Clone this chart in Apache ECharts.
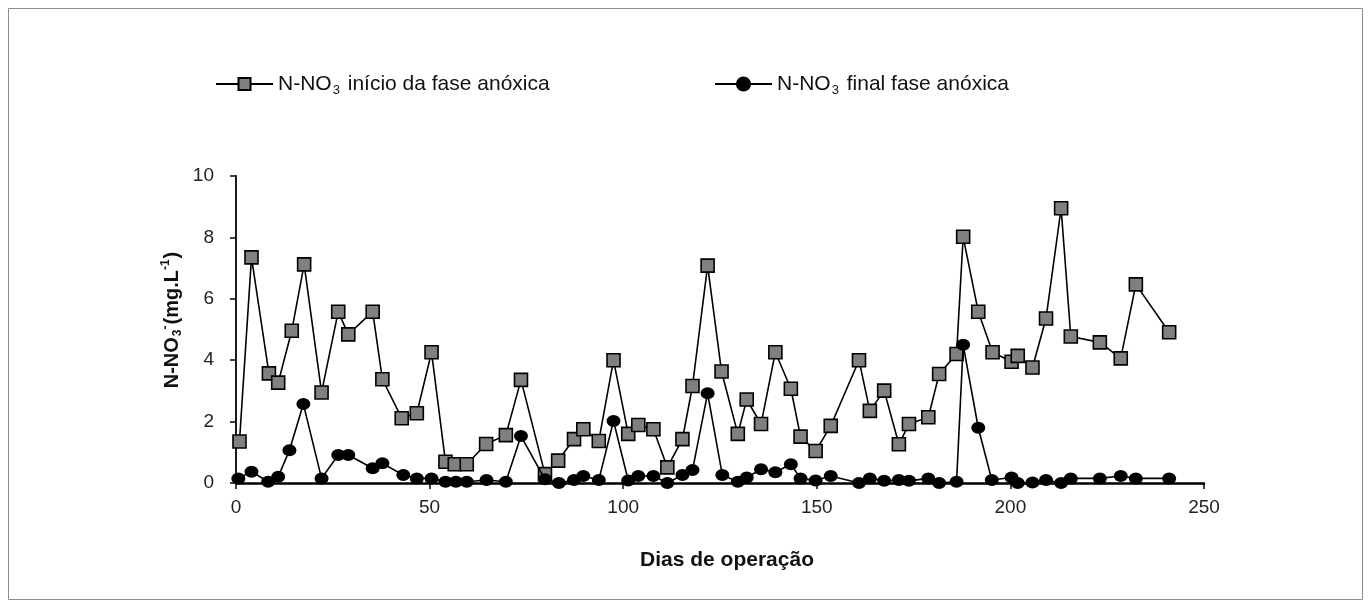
<!DOCTYPE html>
<html>
<head>
<meta charset="utf-8">
<title>N-NO3 na fase anóxica</title>
<script src="https://cdn.jsdelivr.net/npm/echarts@6/dist/echarts.min.js"></script>
<style>
  html, body { margin: 0; padding: 0; background: #ffffff; }
  #chart { width: 1371px; height: 608px; }
</style>
</head>
<body>
<div id="chart"></div>
<script>
// Dias de operação e N-NO3 (mg/L) no início da fase anóxica
const diasInicio = [0.9, 4.0, 8.5, 10.9, 14.4, 17.6, 22.1, 26.4, 29.0, 35.3, 37.8, 42.8, 46.7, 50.5, 54.1, 56.5, 59.6, 64.6, 69.7, 73.6, 79.8, 83.2, 87.3, 89.7, 93.7, 97.5, 101.3, 103.9, 107.8, 111.4, 115.3, 117.9, 121.8, 125.4, 129.6, 131.9, 135.6, 139.3, 143.3, 145.8, 149.7, 153.6, 160.9, 163.7, 167.4, 171.2, 173.8, 178.8, 181.6, 186.1, 187.8, 191.7, 195.4, 200.3, 201.9, 205.7, 209.2, 213.1, 215.6, 223.1, 228.5, 232.4, 241.0];
const inicio = [1.35, 7.35, 3.57, 3.27, 4.96, 7.12, 2.95, 5.58, 4.84, 5.58, 3.38, 2.11, 2.27, 4.26, 0.69, 0.61, 0.61, 1.27, 1.56, 3.36, 0.29, 0.73, 1.43, 1.75, 1.37, 4.0, 1.6, 1.89, 1.75, 0.51, 1.43, 3.16, 7.08, 3.63, 1.6, 2.72, 1.92, 4.26, 3.07, 1.51, 1.04, 1.86, 4.0, 2.35, 3.01, 1.26, 1.92, 2.14, 3.55, 4.2, 8.02, 5.58, 4.26, 3.95, 4.14, 3.76, 5.36, 8.95, 4.77, 4.58, 4.06, 6.47, 4.91];

// Dias de operação e N-NO3 (mg/L) no final da fase anóxica
const diasFinal = [0.6, 4.0, 8.3, 10.9, 13.8, 17.4, 22.1, 26.4, 29.0, 35.3, 37.8, 43.2, 46.7, 50.5, 54.1, 56.8, 59.6, 64.7, 69.7, 73.6, 79.8, 83.4, 87.3, 89.7, 93.7, 97.5, 101.3, 103.9, 107.8, 111.4, 115.3, 117.9, 121.8, 125.6, 129.6, 131.9, 135.6, 139.3, 143.3, 145.8, 149.7, 153.6, 160.9, 163.7, 167.4, 171.2, 173.8, 178.8, 181.6, 186.1, 187.8, 191.7, 195.2, 200.3, 201.9, 205.7, 209.2, 213.1, 215.6, 223.1, 228.5, 232.4, 241.0];
const finalFase = [0.15, 0.37, 0.04, 0.2, 1.07, 2.57, 0.15, 0.91, 0.91, 0.48, 0.64, 0.26, 0.15, 0.15, 0.04, 0.04, 0.04, 0.1, 0.04, 1.53, 0.12, 0.0, 0.1, 0.23, 0.1, 2.02, 0.08, 0.23, 0.23, 0.0, 0.26, 0.42, 2.92, 0.26, 0.04, 0.18, 0.45, 0.35, 0.61, 0.15, 0.08, 0.23, 0.0, 0.15, 0.07, 0.1, 0.07, 0.15, 0.0, 0.04, 4.5, 1.8, 0.1, 0.18, 0.0, 0.02, 0.1, 0.0, 0.15, 0.15, 0.23, 0.15, 0.15];

const xTicks = { min: 0, max: 250, step: 50 };
const yTicks = { min: 0, max: 10, step: 2 };

const serieInicio = 'N-NO3 início da fase anóxica';
const serieFinal = 'N-NO3 final fase anóxica';

const FONT = '"Liberation Sans", Arial, Helvetica, sans-serif';

const pares = (xs, ys) => xs.map((x, i) => [x, ys[i]]);

const legendRich = {
  a: { fontSize: 21, fontFamily: FONT, color: '#111', lineHeight: 26 },
  s: { fontSize: 13, fontFamily: FONT, color: '#111', lineHeight: 26, verticalAlign: 'bottom', padding: [11, 2, 0, 1] }
};

const chart = echarts.init(document.getElementById('chart'), null, { renderer: 'canvas' });

chart.setOption({
  animation: false,
  backgroundColor: '#ffffff',
  grid: { left: 236, right: 167, top: 176, bottom: 125, containLabel: false },
  legend: [
    {
      data: [serieInicio],
      left: 210, top: 68,
      itemWidth: 57, itemHeight: 15,
      formatter: () => '{a|N-NO}{s|3}{a| início da fase anóxica}',
      textStyle: { rich: legendRich }
    },
    {
      data: [serieFinal],
      left: 709, top: 68,
      itemWidth: 57, itemHeight: 19,
      formatter: () => '{a|N-NO}{s|3}{a| final fase anóxica}',
      textStyle: { rich: legendRich }
    }
  ],
  xAxis: {
    type: 'value',
    min: xTicks.min, max: xTicks.max, interval: xTicks.step,
    axisLine: { show: true, onZero: false, lineStyle: { color: '#000', width: 2.5 } },
    axisTick: { show: true, inside: false, length: 6, lineStyle: { color: '#000', width: 1.5 } },
    axisLabel: { fontSize: 19, fontFamily: FONT, color: '#222', margin: 15 },
    splitLine: { show: false }
  },
  yAxis: {
    type: 'value',
    min: yTicks.min, max: yTicks.max, interval: yTicks.step,
    axisLine: { show: true, lineStyle: { color: '#000', width: 1.8 } },
    axisTick: { show: true, inside: false, length: 6, lineStyle: { color: '#000', width: 1.5 } },
    axisLabel: { fontSize: 19, fontFamily: FONT, color: '#222', margin: 22 },
    splitLine: { show: false }
  },
  series: [
    {
      name: serieInicio,
      type: 'line',
      data: pares(diasInicio, inicio),
      symbol: 'rect',
      symbolSize: 13,
      lineStyle: { color: '#000', width: 1.6 },
      itemStyle: { color: '#808080', borderColor: '#000', borderWidth: 1.6 },
      z: 2
    },
    {
      name: serieFinal,
      type: 'line',
      data: pares(diasFinal, finalFase),
      symbol: 'circle',
      symbolSize: [14, 12],
      lineStyle: { color: '#000', width: 1.6 },
      itemStyle: { color: '#000', borderColor: '#000', borderWidth: 0 },
      z: 3
    }
  ],
  graphic: [
    {
      type: 'rect',
      shape: { x: 8.5, y: 8.5, width: 1354, height: 591 },
      style: { fill: 'none', stroke: '#8c8c8c', lineWidth: 1 },
      silent: true
    },
    {
      type: 'text',
      x: 727, y: 560,
      style: {
        text: 'Dias de operação',
        font: 'bold 21px ' + FONT,
        fill: '#111',
        align: 'center',
        verticalAlign: 'middle'
      }
    },
    {
      type: 'text',
      x: 172, y: 320,
      rotation: Math.PI / 2,
      style: {
        text: '{b|N-NO}{s|3}{u|-}{b|(mg.L}{u|-1}{b|)}',
        align: 'center',
        verticalAlign: 'middle',
        fill: '#111',
        rich: {
          b: { font: 'bold 20px ' + FONT, fill: '#111', lineHeight: 24 },
          s: { font: 'bold 12px ' + FONT, fill: '#111', lineHeight: 24, verticalAlign: 'bottom', padding: [10, 0, 0, 1] },
          u: { font: 'bold 12px ' + FONT, fill: '#111', lineHeight: 24, verticalAlign: 'top', padding: [0, 1, 10, 0] }
        }
      }
    }
  ]
});
</script>
</body>
</html>
